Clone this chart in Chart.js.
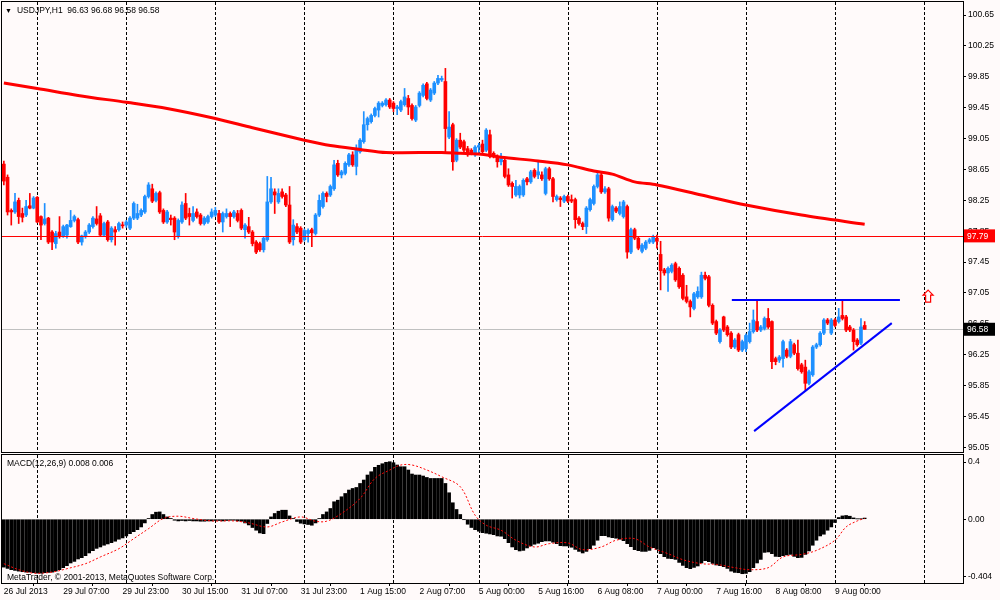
<!DOCTYPE html>
<html>
<head>
<meta charset="utf-8">
<script src="https://cdn.jsdelivr.net/npm/chart.js@4.4.1/dist/chart.umd.min.js"></script>
<style>
  body { margin: 0; width: 1000px; height: 600px; overflow: hidden; position: relative; background: #fffafa; }
  canvas { position: absolute; left: 0; }
  #main { top: 0; }
  #macd { top: 454px; }
  .txt { position: absolute; font: 8.5px "Liberation Sans", Arial, sans-serif; color: #000; white-space: pre; line-height: 12px; }
</style>
</head>
<body>
<canvas id="main" width="1000" height="454" style="width:1000px;height:454px"></canvas>
<canvas id="macd" width="1000" height="146" style="width:1000px;height:146px"></canvas>
<div class="txt" style="left:5px;top:4px"><span style="font-size:7px">▼</span><span style="margin-left:5px">USDJPY,H1  96.63 96.68 96.58 96.58</span></div>
<div class="txt" style="left:7px;top:457px">MACD(12,26,9) 0.008 0.006</div>
<div class="txt" style="left:7px;top:571px">MetaTrader, © 2001-2013, MetaQuotes Software Corp.</div>
<script>
// USDJPY H1, 26 Jul 2013 15:00 .. 9 Aug 2013 08:00 (233 bars)
const opens = [
  98.72, 98.55, 98.12, 98.10, 98.25, 98.08, 98.06, 98.18, 98.15, 98.29,
  98.04, 97.95, 98.02, 97.84, 97.69, 97.84, 97.78, 97.80, 97.91, 97.99,
  98.00, 97.71, 97.78, 97.84, 97.91, 98.01, 98.05, 97.80, 97.97, 97.74,
  97.87, 97.87, 97.93, 97.93, 97.89, 98.02, 98.02, 98.06, 98.10, 98.30,
  98.40, 98.25, 98.35, 98.12, 97.97, 98.02, 98.02, 97.78, 97.97, 98.21,
  98.08, 97.99, 98.10, 98.06, 97.95, 97.97, 98.04, 98.06, 98.08, 97.97,
  98.04, 98.08, 98.04, 98.08, 98.12, 97.87, 97.91, 97.84, 97.71, 97.69,
  97.61, 97.74, 98.23, 98.36, 98.23, 98.36, 98.32, 98.19, 97.74, 97.91,
  97.89, 97.74, 97.82, 97.87, 97.82, 98.06, 98.17, 98.34, 98.32, 98.40,
  98.73, 98.58, 98.60, 98.71, 98.84, 98.69, 98.88, 99.01, 99.23, 99.27,
  99.35, 99.42, 99.48, 99.49, 99.55, 99.51, 99.44, 99.42, 99.49, 99.57,
  99.48, 99.29, 99.48, 99.61, 99.76, 99.55, 99.64, 99.77, 99.81, 99.79,
  99.07, 99.23, 98.77, 99.03, 99.01, 98.92, 98.90, 98.84, 98.94, 98.98,
  98.90, 99.10, 98.86, 98.82, 98.75, 98.77, 98.58, 98.47, 98.32, 98.32,
  98.32, 98.53, 98.49, 98.64, 98.58, 98.58, 98.34, 98.66, 98.53, 98.26,
  98.28, 98.24, 98.30, 98.26, 98.26, 98.02, 97.95, 97.91, 98.13, 98.21,
  98.43, 98.58, 98.36, 98.40, 98.00, 98.15, 98.08, 98.04, 98.17, 97.58,
  97.87, 97.76, 97.59, 97.63, 97.71, 97.71, 97.76, 97.55, 97.35, 97.31,
  97.33, 97.43, 97.37, 97.28, 97.00, 96.94, 96.85, 97.00, 97.00, 97.28,
  97.26, 96.89, 96.68, 96.42, 96.74, 96.61, 96.53, 96.35, 96.51, 96.31,
  96.33, 96.42, 96.55, 96.68, 96.57, 96.59, 96.72, 96.68, 96.20, 96.18,
  96.20, 96.31, 96.23, 96.38, 96.27, 96.12, 96.09, 95.88, 95.99, 96.35,
  96.38, 96.53, 96.70, 96.53, 96.70, 96.68, 96.76, 96.74, 96.61, 96.57,
  96.44, 96.40, 96.63
];
const highs = [
  98.76, 98.58, 98.14, 98.34, 98.28, 98.15, 98.25, 98.34, 98.30, 98.30,
  98.05, 98.21, 98.03, 97.86, 97.85, 98.04, 97.93, 97.94, 98.12, 98.06,
  98.02, 97.80, 97.86, 97.95, 98.04, 98.17, 98.08, 97.97, 97.99, 97.91,
  97.91, 97.97, 97.97, 97.99, 98.04, 98.23, 98.20, 98.14, 98.32, 98.48,
  98.46, 98.36, 98.37, 98.14, 98.12, 98.06, 98.04, 98.01, 98.23, 98.34,
  98.15, 98.17, 98.14, 98.08, 98.04, 98.06, 98.14, 98.16, 98.12, 98.10,
  98.14, 98.10, 98.12, 98.12, 98.14, 97.95, 98.03, 97.86, 97.73, 97.71,
  97.78, 98.56, 98.55, 98.40, 98.40, 98.40, 98.34, 98.43, 98.00, 97.95,
  97.91, 97.88, 97.88, 97.89, 98.08, 98.32, 98.36, 98.36, 98.45, 98.77,
  98.77, 98.64, 98.75, 98.86, 98.88, 98.97, 99.05, 99.40, 99.33, 99.37,
  99.46, 99.53, 99.53, 99.57, 99.57, 99.53, 99.48, 99.55, 99.70, 99.61,
  99.50, 99.48, 99.66, 99.76, 99.78, 99.70, 99.79, 99.87, 99.86, 99.96,
  99.40, 99.25, 99.05, 99.12, 99.03, 98.95, 98.92, 98.96, 98.99, 99.03,
  99.18, 99.16, 98.88, 98.84, 98.86, 98.79, 98.66, 98.49, 98.51, 98.45,
  98.53, 98.55, 98.64, 98.66, 98.77, 98.62, 98.68, 98.68, 98.55, 98.32,
  98.30, 98.32, 98.32, 98.32, 98.28, 98.04, 97.97, 98.17, 98.28, 98.45,
  98.60, 98.60, 98.43, 98.42, 98.19, 98.17, 98.23, 98.25, 98.19, 97.89,
  97.89, 97.78, 97.69, 97.73, 97.76, 97.80, 97.80, 97.72, 97.37, 97.39,
  97.43, 97.45, 97.39, 97.30, 97.15, 96.96, 97.06, 97.13, 97.32, 97.32,
  97.28, 96.91, 96.70, 96.59, 96.75, 96.63, 96.55, 96.46, 96.53, 96.44,
  96.52, 96.66, 96.83, 96.96, 96.63, 96.74, 96.85, 96.69, 96.22, 96.24,
  96.44, 96.33, 96.45, 96.40, 96.44, 96.14, 96.18, 96.05, 96.37, 96.40,
  96.55, 96.72, 96.72, 96.72, 96.72, 96.85, 96.96, 96.76, 96.63, 96.59,
  96.46, 96.72, 96.68
];
const lows = [
  98.45, 98.06, 97.93, 98.08, 97.95, 97.97, 98.04, 98.14, 98.14, 97.96,
  97.74, 97.93, 97.69, 97.61, 97.63, 97.76, 97.77, 97.76, 97.90, 97.97,
  97.69, 97.67, 97.76, 97.82, 97.89, 97.93, 97.78, 97.78, 97.72, 97.71,
  97.67, 97.85, 97.89, 97.90, 97.87, 98.00, 98.00, 98.04, 98.08, 98.28,
  98.22, 98.23, 98.08, 97.95, 97.95, 97.93, 97.74, 97.76, 97.95, 98.00,
  97.93, 97.97, 98.02, 97.93, 97.93, 97.95, 98.02, 98.04, 97.95, 97.84,
  98.02, 97.91, 98.02, 97.97, 97.87, 97.76, 97.82, 97.66, 97.56, 97.59,
  97.58, 97.72, 98.21, 98.08, 98.21, 98.28, 98.17, 97.69, 97.67, 97.82,
  97.69, 97.72, 97.71, 97.65, 97.80, 98.04, 98.15, 98.23, 98.30, 98.38,
  98.56, 98.54, 98.58, 98.69, 98.69, 98.58, 98.86, 98.99, 99.16, 99.25,
  99.33, 99.33, 99.46, 99.47, 99.44, 99.40, 99.36, 99.40, 99.47, 99.36,
  99.29, 99.27, 99.46, 99.59, 99.55, 99.53, 99.62, 99.75, 99.79, 98.88,
  99.05, 98.64, 98.75, 98.92, 98.88, 98.82, 98.84, 98.82, 98.86, 98.86,
  98.88, 98.80, 98.80, 98.68, 98.71, 98.54, 98.43, 98.28, 98.30, 98.28,
  98.30, 98.45, 98.47, 98.54, 98.53, 98.51, 98.32, 98.51, 98.23, 98.24,
  98.17, 98.22, 98.22, 98.22, 97.89, 97.93, 97.87, 97.82, 98.11, 98.19,
  98.41, 98.34, 98.34, 97.98, 97.98, 98.09, 98.06, 98.02, 97.50, 97.56,
  97.74, 97.61, 97.57, 97.61, 97.69, 97.69, 97.63, 97.09, 97.28, 97.07,
  97.31, 97.20, 97.11, 96.96, 96.92, 96.74, 96.83, 96.98, 96.98, 97.22,
  96.87, 96.64, 96.51, 96.40, 96.55, 96.49, 96.33, 96.33, 96.29, 96.29,
  96.29, 96.40, 96.53, 96.55, 96.55, 96.57, 96.59, 96.07, 96.12, 96.15,
  96.09, 96.21, 96.21, 96.25, 96.05, 96.01, 95.79, 95.86, 95.97, 96.33,
  96.36, 96.51, 96.64, 96.51, 96.61, 96.66, 96.70, 96.55, 96.55, 96.31,
  96.36, 96.38, 96.58
];
const closes = [
  98.50, 98.10, 98.10, 98.23, 98.04, 98.03, 98.17, 98.15, 98.28, 97.97,
  97.93, 98.01, 97.71, 97.71, 97.82, 97.78, 97.91, 97.93, 97.99, 98.04,
  97.71, 97.79, 97.84, 97.93, 98.02, 97.95, 97.80, 97.95, 97.74, 97.89,
  97.84, 97.95, 97.92, 97.97, 98.02, 98.21, 98.08, 98.12, 98.30, 98.45,
  98.24, 98.34, 98.10, 97.97, 98.10, 98.00, 97.84, 97.99, 98.19, 98.02,
  98.04, 98.08, 98.04, 97.95, 98.02, 98.04, 98.10, 98.12, 97.97, 98.08,
  98.08, 98.04, 98.10, 97.99, 97.89, 97.93, 97.84, 97.69, 97.58, 97.61,
  97.76, 98.23, 98.40, 98.32, 98.34, 98.30, 98.19, 97.71, 97.93, 97.84,
  97.71, 97.86, 97.86, 97.83, 98.06, 98.25, 98.34, 98.30, 98.43, 98.71,
  98.58, 98.62, 98.73, 98.84, 98.71, 98.92, 99.03, 99.23, 99.31, 99.35,
  99.44, 99.51, 99.51, 99.55, 99.46, 99.44, 99.46, 99.53, 99.59, 99.46,
  99.31, 99.46, 99.64, 99.74, 99.57, 99.68, 99.77, 99.83, 99.83, 99.18,
  99.20, 98.75, 99.03, 98.94, 98.90, 98.84, 98.86, 98.94, 98.96, 98.88,
  99.16, 98.82, 98.82, 98.75, 98.79, 98.56, 98.45, 98.43, 98.43, 98.43,
  98.51, 98.49, 98.62, 98.56, 98.62, 98.53, 98.66, 98.53, 98.30, 98.30,
  98.26, 98.30, 98.24, 98.24, 98.00, 97.95, 97.91, 98.15, 98.26, 98.43,
  98.58, 98.36, 98.40, 98.02, 98.17, 98.11, 98.17, 98.23, 97.58, 97.87,
  97.76, 97.63, 97.67, 97.71, 97.74, 97.78, 97.72, 97.34, 97.31, 97.37,
  97.41, 97.22, 97.13, 96.98, 96.94, 96.87, 97.04, 97.07, 97.28, 97.24,
  96.89, 96.66, 96.53, 96.57, 96.57, 96.51, 96.35, 96.44, 96.31, 96.42,
  96.50, 96.55, 96.70, 96.57, 96.61, 96.72, 96.61, 96.16, 96.16, 96.22,
  96.42, 96.23, 96.42, 96.27, 96.07, 96.03, 95.88, 96.03, 96.35, 96.38,
  96.53, 96.70, 96.66, 96.70, 96.63, 96.74, 96.72, 96.57, 96.57, 96.42,
  96.38, 96.61, 96.58
];

// moving average, read at these bars
const maIdx = [0, 9, 20, 33, 44, 57, 67, 81, 88, 96, 103, 118, 123, 128, 134, 144, 152, 159, 164, 170, 176, 188, 200, 215, 232];
const maVal = [99.77, 99.70, 99.61, 99.52, 99.44, 99.31, 99.19, 99.03, 98.96, 98.91, 98.87, 98.87, 98.86, 98.85, 98.81, 98.76, 98.71, 98.63, 98.59, 98.49, 98.45, 98.32, 98.19, 98.06, 97.94];

// MACD(12,26,9) main line, one value per bar
const macdHist = [
  -0.335, -0.344, -0.353, -0.358, -0.363, -0.367, -0.370, -0.370, -0.374, -0.377,
  -0.377, -0.374, -0.372, -0.370, -0.363, -0.353, -0.339, -0.325, -0.306, -0.295,
  -0.278, -0.269, -0.255, -0.236, -0.220, -0.204, -0.194, -0.182, -0.173, -0.164,
  -0.154, -0.140, -0.131, -0.117, -0.101, -0.087, -0.073, -0.054, -0.026, 0.005,
  0.033, 0.049, 0.051, 0.033, 0.016, 0.005, -0.007, -0.012, -0.009, -0.012,
  -0.009, -0.012, -0.012, -0.014, -0.014, -0.012, -0.012, -0.009, -0.009, -0.012,
  -0.009, -0.007, -0.007, -0.012, -0.014, -0.026, -0.040, -0.058, -0.077, -0.096,
  -0.101, -0.030, 0.016, 0.040, 0.056, 0.063, 0.063, 0.023, 0.005, -0.016,
  -0.028, -0.033, -0.037, -0.042, -0.026, 0.005, 0.033, 0.051, 0.075, 0.122,
  0.133, 0.157, 0.180, 0.204, 0.215, 0.222, 0.250, 0.274, 0.309, 0.332,
  0.363, 0.377, 0.388, 0.398, 0.402, 0.395, 0.379, 0.367, 0.367, 0.344,
  0.316, 0.309, 0.309, 0.302, 0.292, 0.285, 0.285, 0.285, 0.285, 0.250,
  0.185, 0.115, 0.068, 0.033, -0.002, -0.035, -0.058, -0.073, -0.084, -0.094,
  -0.098, -0.103, -0.108, -0.117, -0.119, -0.136, -0.164, -0.194, -0.213, -0.222,
  -0.218, -0.201, -0.187, -0.175, -0.168, -0.157, -0.152, -0.152, -0.161, -0.171,
  -0.185, -0.187, -0.187, -0.196, -0.211, -0.225, -0.236, -0.225, -0.206, -0.182,
  -0.147, -0.115, -0.115, -0.124, -0.129, -0.133, -0.140, -0.150, -0.171, -0.192,
  -0.213, -0.220, -0.225, -0.225, -0.218, -0.199, -0.211, -0.241, -0.262, -0.274,
  -0.276, -0.281, -0.302, -0.323, -0.339, -0.346, -0.337, -0.327, -0.306, -0.290,
  -0.297, -0.309, -0.320, -0.325, -0.332, -0.344, -0.363, -0.372, -0.374, -0.381,
  -0.379, -0.367, -0.339, -0.306, -0.281, -0.232, -0.229, -0.241, -0.260, -0.262,
  -0.255, -0.250, -0.246, -0.260, -0.269, -0.267, -0.246, -0.222, -0.182, -0.147,
  -0.117, -0.105, -0.077, -0.054, -0.023, 0.012, 0.023, 0.026, 0.021, 0.009,
  0.002, 0.002, 0.008
];
// signal line, read at these bars
const sigIdx = [0, 4, 8, 13, 17, 22, 26, 31, 35, 39, 43, 47, 51, 56, 62, 66, 71, 75, 80, 84, 87, 91, 96, 100, 104, 107, 110, 114, 118, 123, 127, 130, 134, 138, 143, 147, 152, 156, 161, 165, 170, 174, 179, 183, 188, 192, 197, 201, 206, 210, 215, 219, 224, 227, 230, 232];
const sigVal = [-0.311, -0.353, -0.377, -0.370, -0.346, -0.311, -0.264, -0.206, -0.136, -0.066, 0.005, 0.021, 0.005, -0.012, -0.012, -0.026, -0.054, -0.019, 0.016, -0.014, -0.014, 0.040, 0.145, 0.285, 0.344, 0.379, 0.379, 0.344, 0.297, 0.227, 0.028, -0.042, -0.077, -0.147, -0.194, -0.171, -0.166, -0.213, -0.194, -0.147, -0.136, -0.194, -0.241, -0.283, -0.311, -0.316, -0.339, -0.353, -0.339, -0.264, -0.246, -0.218, -0.147, -0.054, -0.012, 0.006];

// axes
const slotCount = 259; // 233 bars + empty space to the right
const dayIdx = [9, 33, 57, 81, 105, 128, 152, 176, 200, 224, 248];
const tickIdx = [0, 16, 32, 48, 64, 80, 96, 112, 128, 144, 160, 176, 192, 208, 224];
const tickText = ['26 Jul 2013', '29 Jul 07:00', '29 Jul 23:00', '30 Jul 15:00', '31 Jul 07:00', '31 Jul 23:00', '1 Aug 15:00', '2 Aug 07:00', '5 Aug 00:00', '5 Aug 16:00', '6 Aug 08:00', '7 Aug 00:00', '7 Aug 16:00', '8 Aug 08:00', '9 Aug 00:00'];
const priceTicks = [100.65, 100.25, 99.85, 99.45, 99.05, 98.65, 98.25, 97.85, 97.45, 97.05, 96.65, 96.25, 95.85, 95.45, 95.05];
const macdTickVals = [0.4, 0, -0.404];
const macdTickText = ['0.4', '0.00', '-0.404'];

// chart objects
const levelPrice = 97.79;
const bidPrice = 96.58;
const resistIdx = [196.2, 241.5];
const resistPrice = [96.96, 96.96];
const supportIdx = [202.2, 239.3];
const supportPrice = [95.26, 96.66];
const arrowIdx = 249.1;
const arrowPrice = 97.01;

const FONT = '"Liberation Sans", Arial, sans-serif';
const BULL = '#1e90ff';
const BEAR = '#ff0000';

const slots = Array.from({ length: slotCount }, (_, i) => String(i));
const maLine = new Array(closes.length).fill(null);
maIdx.forEach((k, j) => { maLine[k] = maVal[j]; });
const sigLine = new Array(closes.length).fill(null);
sigIdx.forEach((k, j) => { sigLine[k] = sigVal[j]; });
const candleColor = c => (closes[c.dataIndex] >= opens[c.dataIndex] ? BULL : BEAR);

// dashed day separators and the black frame of each pane
const pane = {
  id: 'pane',
  beforeDatasetsDraw(chart) {
    const { ctx, chartArea: a, scales: { x } } = chart;
    ctx.save();
    ctx.strokeStyle = '#000';
    ctx.lineWidth = 1;
    ctx.setLineDash([3, 2]);
    dayIdx.forEach(i => {
      const px = Math.round(x.getPixelForValue(i)) + 0.5;
      ctx.beginPath();
      ctx.moveTo(px, a.top);
      ctx.lineTo(px, a.bottom);
      ctx.stroke();
    });
    ctx.restore();
  },
  afterDraw(chart) {
    const { ctx, chartArea: a } = chart;
    ctx.save();
    ctx.strokeStyle = '#000';
    ctx.lineWidth = 1;
    ctx.strokeRect(a.left - 0.5, a.top - 0.5, a.right - a.left + 1, a.bottom - a.top + 1);
    ctx.restore();
  }
};

function priceTag(ctx, left, py, text, bg) {
  ctx.fillStyle = bg;
  ctx.fillRect(left + 1, py - 6.5, 31, 13);
  ctx.fillStyle = '#fff';
  ctx.font = '8.5px ' + FONT;
  ctx.textBaseline = 'middle';
  ctx.textAlign = 'left';
  ctx.fillText(text, left + 4, py + 0.5);
}

const objects = {
  id: 'objects',
  beforeDatasetsDraw(chart) {
    const { ctx, chartArea: a, scales: { y } } = chart;
    const py = Math.round(y.getPixelForValue(bidPrice)) + 0.5;
    ctx.save();
    ctx.strokeStyle = '#c0c0c0';
    ctx.lineWidth = 1;
    ctx.beginPath();
    ctx.moveTo(a.left, py);
    ctx.lineTo(a.right, py);
    ctx.stroke();
    ctx.restore();
  },
  afterDatasetsDraw(chart) {
    const { ctx, chartArea: a, scales: { x, y } } = chart;
    ctx.save();
    const ly = Math.round(y.getPixelForValue(levelPrice)) + 0.5;
    ctx.strokeStyle = '#ff0000';
    ctx.lineWidth = 1;
    ctx.beginPath();
    ctx.moveTo(a.left, ly);
    ctx.lineTo(a.right, ly);
    ctx.stroke();

    ctx.strokeStyle = '#0000ff';
    ctx.lineWidth = 2;
    [[resistIdx, resistPrice], [supportIdx, supportPrice]].forEach(([ix, pr]) => {
      ctx.beginPath();
      ctx.moveTo(x.getPixelForValue(ix[0]), y.getPixelForValue(pr[0]));
      ctx.lineTo(x.getPixelForValue(ix[1]), y.getPixelForValue(pr[1]));
      ctx.stroke();
    });

    // hollow up arrow
    const cx = x.getPixelForValue(arrowIdx), cy = y.getPixelForValue(arrowPrice);
    ctx.strokeStyle = '#ff0000';
    ctx.lineWidth = 1.2;
    ctx.beginPath();
    ctx.moveTo(cx, cy - 6);
    ctx.lineTo(cx + 5, cy - 1);
    ctx.lineTo(cx + 2.5, cy - 1);
    ctx.lineTo(cx + 2.5, cy + 6);
    ctx.lineTo(cx - 2.5, cy + 6);
    ctx.lineTo(cx - 2.5, cy - 1);
    ctx.lineTo(cx - 5, cy - 1);
    ctx.closePath();
    ctx.stroke();
    ctx.restore();
  },
  afterDraw(chart) {
    const { ctx, chartArea: a, scales: { y } } = chart;
    ctx.save();
    priceTag(ctx, a.right, y.getPixelForValue(levelPrice), levelPrice.toFixed(2), '#ff0000');
    priceTag(ctx, a.right, y.getPixelForValue(bidPrice), bidPrice.toFixed(2), '#000');
    ctx.restore();
  }
};

// the price scale must not push the pane inwards for its end labels
const rightAxis = (min, max, vals, fmt) => ({
  position: 'right',
  min: min,
  max: max,
  afterBuildTicks: s => { s.ticks = vals.map(v => ({ value: v })); },
  afterFit: s => { s.width = 37; s.paddingTop = 0; s.paddingBottom = 0; },
  ticks: { callback: fmt, color: '#000', padding: 2, font: { family: FONT, size: 8.5 } },
  grid: { drawOnChartArea: false, tickLength: 3, color: '#000' },
  border: { display: false }
});

new Chart(document.getElementById('main'), {
  type: 'bar',
  data: {
    labels: slots,
    datasets: [
      { type: 'line', data: maLine, borderColor: '#ff0000', borderWidth: 3, pointRadius: 0, spanGaps: true, tension: 0.3, order: 0 },
      { data: opens.map((o, i) => [o, closes[i]]), backgroundColor: candleColor, barThickness: 3, minBarLength: 1, grouped: false, borderWidth: 0, order: 1 },
      { data: lows.map((l, i) => [l, highs[i]]), backgroundColor: candleColor, barThickness: 1, grouped: false, borderWidth: 0, order: 2 }
    ]
  },
  options: {
    responsive: false,
    animation: false,
    devicePixelRatio: 1,
    layout: { padding: { left: 2, top: 2, bottom: 2, right: 0 } },
    plugins: { legend: { display: false }, tooltip: { enabled: false } },
    scales: {
      x: { display: false, offset: true, grid: { display: false } },
      y: rightAxis(94.99, 100.82, priceTicks, v => v.toFixed(2))
    }
  },
  plugins: [pane, objects]
});

new Chart(document.getElementById('macd'), {
  type: 'bar',
  data: {
    labels: slots,
    datasets: [
      { type: 'line', data: sigLine, borderColor: '#ff0000', borderWidth: 1, borderDash: [2, 2], pointRadius: 0, spanGaps: true, tension: 0.35, order: 0 },
      { data: macdHist, backgroundColor: '#000', barThickness: 3, borderWidth: 0, order: 1 }
    ]
  },
  options: {
    responsive: false,
    animation: false,
    devicePixelRatio: 1,
    layout: { padding: { left: 2, top: 1, bottom: 0, right: 0 } },
    plugins: { legend: { display: false }, tooltip: { enabled: false } },
    scales: {
      x: {
        offset: true,
        afterBuildTicks: s => { s.ticks = tickIdx.map(v => ({ value: v })); },
        afterFit: s => { s.height = 17; s.paddingLeft = 0; s.paddingRight = 0; },
        ticks: {
          autoSkip: false, maxRotation: 0, minRotation: 0, align: 'start', padding: 1,
          color: '#000', font: { family: FONT, size: 8.5 },
          callback: v => tickText[tickIdx.indexOf(v)]
        },
        grid: { drawOnChartArea: false, tickLength: 3, color: '#000' },
        border: { display: false }
      },
      y: rightAxis(-0.446, 0.449, macdTickVals, v => macdTickText[macdTickVals.indexOf(v)])
    }
  },
  plugins: [pane]
});
</script>
</body>
</html>
